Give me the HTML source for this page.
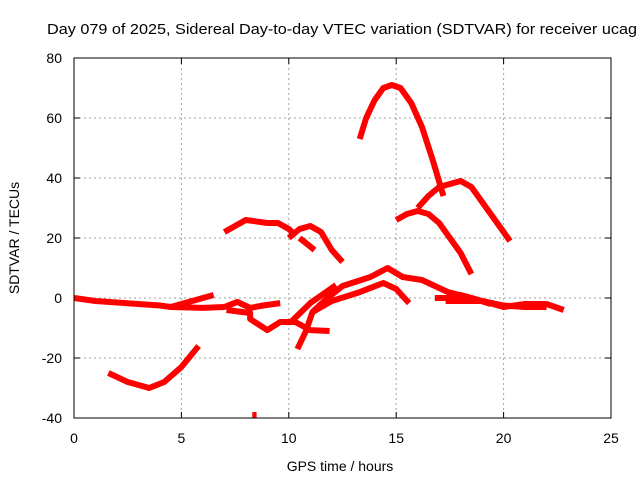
<!DOCTYPE html>
<html><head><meta charset="utf-8"><style>
body{margin:0;background:#fff}
svg{display:block;font-family:"Liberation Sans",sans-serif}
</style></head><body>
<svg id="chart" width="640" height="480">
<text x="47" y="34" font-size="15" textLength="590" lengthAdjust="spacingAndGlyphs">Day 079 of 2025, Sidereal Day-to-day VTEC variation (SDTVAR) for receiver ucag</text>
<text x="340" y="471" font-size="14" text-anchor="middle">GPS time / hours</text>
<text x="19" y="238" font-size="14" text-anchor="middle" transform="rotate(-90 19 238)">SDTVAR / TECUs</text>
<g id="grid"></g>
<g id="marks"></g>
<rect x="74" y="58" width="537" height="360" fill="none" stroke="#000" stroke-width="1"/>
</svg>
<script>
const xTicks=[0,5,10,15,20,25];
const yTicks=[-40,-20,0,20,40,60,80];
const track1=[[13.3,53],[13.6,60],[14,66],[14.4,70],[14.8,71],[15.2,70],[15.7,65],[16.2,57],[16.7,46],[17.2,34]];
const track2=[[16,30],[16.5,34],[17,37],[18,39],[18.5,37],[19.5,27],[20.3,19]];
const track3=[[15,26],[15.5,28],[16,29],[16.5,28],[17,25],[17.5,20],[18,15],[18.5,8]];
const track4=[[7,22],[7.5,24],[8,26],[9,25],[9.5,25],[10,23],[10.3,21]];
const track5=[[10,20],[10.5,23],[11,24],[11.5,22],[12,16],[12.5,12]];
const track6=[[10.5,20],[11.2,16]];
const track7=[[1.6,-25],[2.5,-28],[3.5,-30],[4.2,-28],[5,-23],[5.8,-16]];
const track8=[[8.3,-39],[8.5,-39]];
const track9=[[0,0],[1,-1],[2,-1.5],[3,-2],[4,-2.5],[4.5,-3],[5.5,-1],[6,0],[6.5,1]];
const track10=[[4.5,-3],[6,-3.3],[7,-3],[7.6,-1.3],[8.2,-3.3],[8.8,-2.5],[9.6,-1.7]];
const track11=[[7.1,-4],[8.2,-5],[8.2,-7],[9,-10.7],[9.6,-8],[10.3,-8],[11,-10.7],[11.9,-11]];
const track12=[[10.4,-17],[10.8,-11],[11.1,-4.7],[11.8,0],[12.5,4],[13.8,7],[14.6,10],[15.3,7],[16.2,6],[17.4,2],[18.5,0],[19.4,-2]];
const track13=[[10.1,-8],[11,-1.7],[12.2,4.3]];
const track14=[[11.1,-4.7],[12,-1],[13.2,1.7],[14.4,5],[15,3],[15.6,-1.7]];
const track15=[[16.8,0],[17.5,0],[18,1],[19,-1],[20,-3],[21,-2],[22,-2],[22.8,-4]];
const track16=[[17.3,-1],[19,-1],[20,-2.5],[21,-3],[22,-3]];
const tracks=[track1,track2,track3,track4,track5,track6,track7,track8,track9,track10,track11,track12,track13,track14,track15,track16];
const X0=74,X1=611,Y0=418,Y1=58;
const sx=v=>X0+(v-0)/25*(X1-X0);
const sy=v=>Y0-(v+40)/120*(Y0-Y1);
const NS="http://www.w3.org/2000/svg";
const grid=document.getElementById('grid');
const marks=document.getElementById('marks');
xTicks.forEach(t=>{
 const x=sx(t);
 if(t>0&&t<25){const l=document.createElementNS(NS,'line');
 
 
 l.setAttribute('x1',x);l.setAttribute('x2',x);l.setAttribute('y1',Y1);l.setAttribute('y2',Y0);
 l.setAttribute('stroke','#a0a0a0');l.setAttribute('stroke-dasharray','2,3');grid.appendChild(l);}
 const tk=document.createElementNS(NS,'path');
 
 
 tk.setAttribute('d',`M${x} ${Y0}v-6M${x} ${Y1}v6`);tk.setAttribute('stroke','#000');grid.appendChild(tk);
 const tx=document.createElementNS(NS,'text');
 
 
 tx.setAttribute('x',x);tx.setAttribute('y',443);tx.setAttribute('font-size','14');tx.setAttribute('text-anchor','middle');
 tx.textContent=t;grid.appendChild(tx);
});
yTicks.forEach(t=>{
 const y=sy(t);
 if(t>-40&&t<80){const l=document.createElementNS(NS,'line');
 
 
 l.setAttribute('x1',X0);l.setAttribute('x2',X1);l.setAttribute('y1',y);l.setAttribute('y2',y);
 l.setAttribute('stroke','#a0a0a0');l.setAttribute('stroke-dasharray','2,3');grid.appendChild(l);}
 const tk=document.createElementNS(NS,'path');
 
 
 tk.setAttribute('d',`M${X0} ${y}h6M${X1} ${y}h-6`);tk.setAttribute('stroke','#000');grid.appendChild(tk);
 const tx=document.createElementNS(NS,'text');
 
 
 tx.setAttribute('x',62);tx.setAttribute('y',y+5);tx.setAttribute('font-size','14');tx.setAttribute('text-anchor','end');
 tx.textContent=t;grid.appendChild(tx);
});
tracks.forEach(tr=>{
 const p=document.createElementNS(NS,'polyline');
 
 
 p.setAttribute('points',tr.map(d=>sx(d[0])+','+sy(d[1])).join(' '));
 p.setAttribute('fill','none');p.setAttribute('stroke','#ff0000');p.setAttribute('stroke-width','6');
 p.setAttribute('stroke-linejoin','round');
 marks.appendChild(p);
});
</script>
</body></html>
